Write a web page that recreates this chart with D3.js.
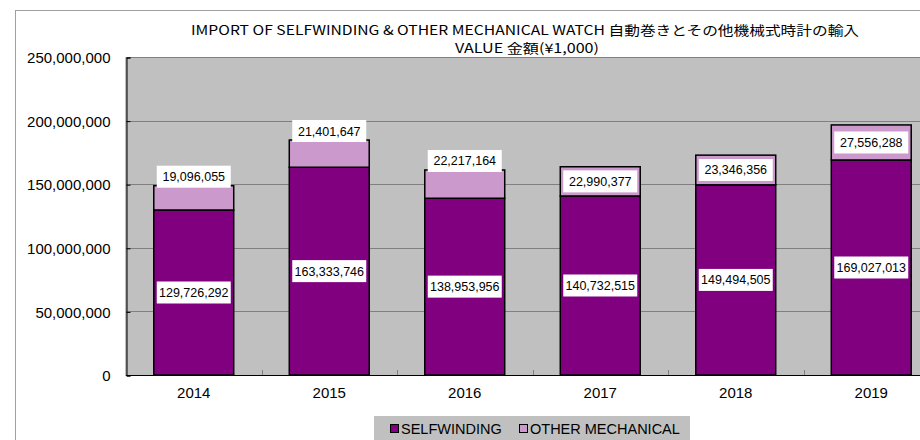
<!DOCTYPE html>
<html>
<head>
<meta charset="utf-8">
<script src="https://cdn.jsdelivr.net/npm/d3@7"></script>
<style>
  body { margin: 0; background: #fff; }
  svg { display: block; font-family: "Liberation Sans", Arial, sans-serif; }
</style>
</head>
<body>
<svg width="920" height="440"></svg>
<script>
var years = ['2014', '2015', '2016', '2017', '2018', '2019'];
var selfwinding = [129726292, 163333746, 138953956, 140732515, 149494505, 169027013];
var otherMech = [19096055, 21401647, 22217164, 22990377, 23346356, 27556288];
var yTicks = [0, 50000000, 100000000, 150000000, 200000000, 250000000];
var seriesNames = ['SELFWINDING', 'OTHER MECHANICAL'];
var colors = ['#800080', '#CC99CC'];

var svg = d3.select('svg');
var fmt = d3.format(',');

// outer chart frame
svg.append('rect')
   .attr('x', 15.5).attr('y', 10.5)
   .attr('width', 930).attr('height', 450)
   .style('fill', 'white').style('stroke', '#a0a0a0');

var plotLeft = 126, plotTop = 57, plotBottom = 375, step = 135.5;
var plotRight = plotLeft + step * years.length;
var x = d3.scaleBand().domain(years)
  .range([plotLeft, plotRight])
  .paddingInner(0.41).paddingOuter(0.205);
var y = d3.scaleLinear().domain([0, 250000000]).range([plotBottom, plotTop]);

// plot area
svg.append('rect')
   .attr('x', plotLeft).attr('y', plotTop + 0.5)
   .attr('width', plotRight - plotLeft).attr('height', plotBottom - plotTop)
   .style('fill', '#c0c0c0').style('stroke', '#808080');

svg.append('g').selectAll('line').data(yTicks.slice(1, -1)).enter().append('line')
   .attr('x1', plotLeft).attr('x2', plotRight)
   .attr('y1', function (d) { return Math.round(y(d)) + 0.5; })
   .attr('y2', function (d) { return Math.round(y(d)) + 0.5; })
   .style('stroke', '#808080');

// y axis
var yAxis = svg.append('g')
  .attr('transform', 'translate(' + (plotLeft + 0.5) + ',0.5)')
  .call(d3.axisRight(y).tickValues(yTicks).tickFormat(fmt).tickSize(4));
yAxis.select('.domain').style('stroke', '#000');
yAxis.selectAll('line').style('stroke', '#000');
yAxis.selectAll('text')
     .attr('x', -16).attr('text-anchor', 'end')
     .attr('dy', '0.35em')
     .style('font-size', '15px').style('fill', '#000');

// x axis
var xAxis = svg.append('g')
  .attr('transform', 'translate(0,' + (plotBottom + 0.5) + ')')
  .call(d3.axisBottom(x).tickSize(0).tickPadding(12));
xAxis.select('.domain').style('stroke', '#000').attr('d', 'M' + plotLeft + ',0H' + plotRight);
xAxis.selectAll('text').style('font-size', '15px').style('fill', '#000');

svg.append('g').selectAll('line').data(years.slice(1)).enter().append('line')
   .attr('x1', function (d) { return Math.round(x(d) - x.step() * x.paddingInner() / 2) + 0.5; })
   .attr('x2', function (d) { return Math.round(x(d) - x.step() * x.paddingInner() / 2) + 0.5; })
   .attr('y1', plotBottom).attr('y2', plotBottom - 5)
   .style('stroke', '#808080');

// stacked bars
var rows = years.map(function (yr, i) {
  return { year: yr, s: selfwinding[i], o: otherMech[i] };
});
var stack = d3.stack().keys(['s', 'o'])(rows);

var bars = svg.append('g').selectAll('g').data(stack).enter().append('g')
  .style('fill', function (d, i) { return colors[i]; });
bars.selectAll('rect').data(function (d) { return d; }).enter().append('rect')
  .attr('x', function (d) { return x(d.data.year); })
  .attr('width', x.bandwidth())
  .attr('y', function (d) { return y(d[1]); })
  .attr('height', function (d) { return y(d[0]) - y(d[1]); })
  .style('stroke', '#000').style('stroke-width', 1.5);

// value labels
var labels = [];
stack.forEach(function (layer, li) {
  layer.forEach(function (d) {
    var v = d[1] - d[0];
    var cy = (y(d[0]) + y(d[1])) / 2;
    if (li === 1 && v < 22500000) cy = y(d[1]) - 9;
    labels.push({ x: x(d.data.year) + x.bandwidth() / 2, y: cy, v: v });
  });
});
var lg = svg.append('g').selectAll('g').data(labels).enter().append('g')
  .attr('transform', function (d) { return 'translate(' + d.x + ',' + d.y + ')'; });
lg.append('rect')
  .attr('x', -37).attr('y', -11).attr('width', 74).attr('height', 22)
  .style('fill', 'white');
lg.append('text')
  .attr('text-anchor', 'middle').attr('dy', '0.36em')
  .style('font-size', '12.5px').style('fill', '#000')
  .text(function (d) { return fmt(d.v); });

// title
svg.append('text')
   .attr('x', 525).attr('y', 35)
   .attr('text-anchor', 'middle')
   .attr('textLength', 668).attr('lengthAdjust', 'spacingAndGlyphs')
   .style('font-family', '"Noto Sans CJK JP", sans-serif')
   .style('font-size', '13px')
   .text('IMPORT OF SELFWINDING & OTHER MECHANICAL WATCH  自動巻きとその他機械式時計の輸入');
svg.append('text')
   .attr('x', 527).attr('y', 53)
   .attr('text-anchor', 'middle')
   .attr('textLength', 144).attr('lengthAdjust', 'spacingAndGlyphs')
   .style('font-family', '"Noto Sans CJK JP", sans-serif')
   .style('font-size', '13px')
   .text('VALUE 金額(¥1,000)');

// legend
var leg = svg.append('g').attr('transform', 'translate(374,416)');
leg.append('rect').attr('width', 316).attr('height', 24).style('fill', '#c0c0c0');
var items = leg.selectAll('g.item').data(seriesNames).enter().append('g')
  .attr('transform', function (d, i) { return 'translate(' + [16, 145][i] + ',0)'; });
items.append('rect')
  .attr('x', 0.5).attr('y', 8.5).attr('width', 8).attr('height', 8)
  .style('fill', function (d, i) { return colors[i]; })
  .style('stroke', '#000');
items.append('text')
  .attr('x', 11).attr('y', 18)
  .style('font-size', '14.5px').style('fill', '#000')
  .text(function (d) { return d; });
</script>
</body>
</html>
